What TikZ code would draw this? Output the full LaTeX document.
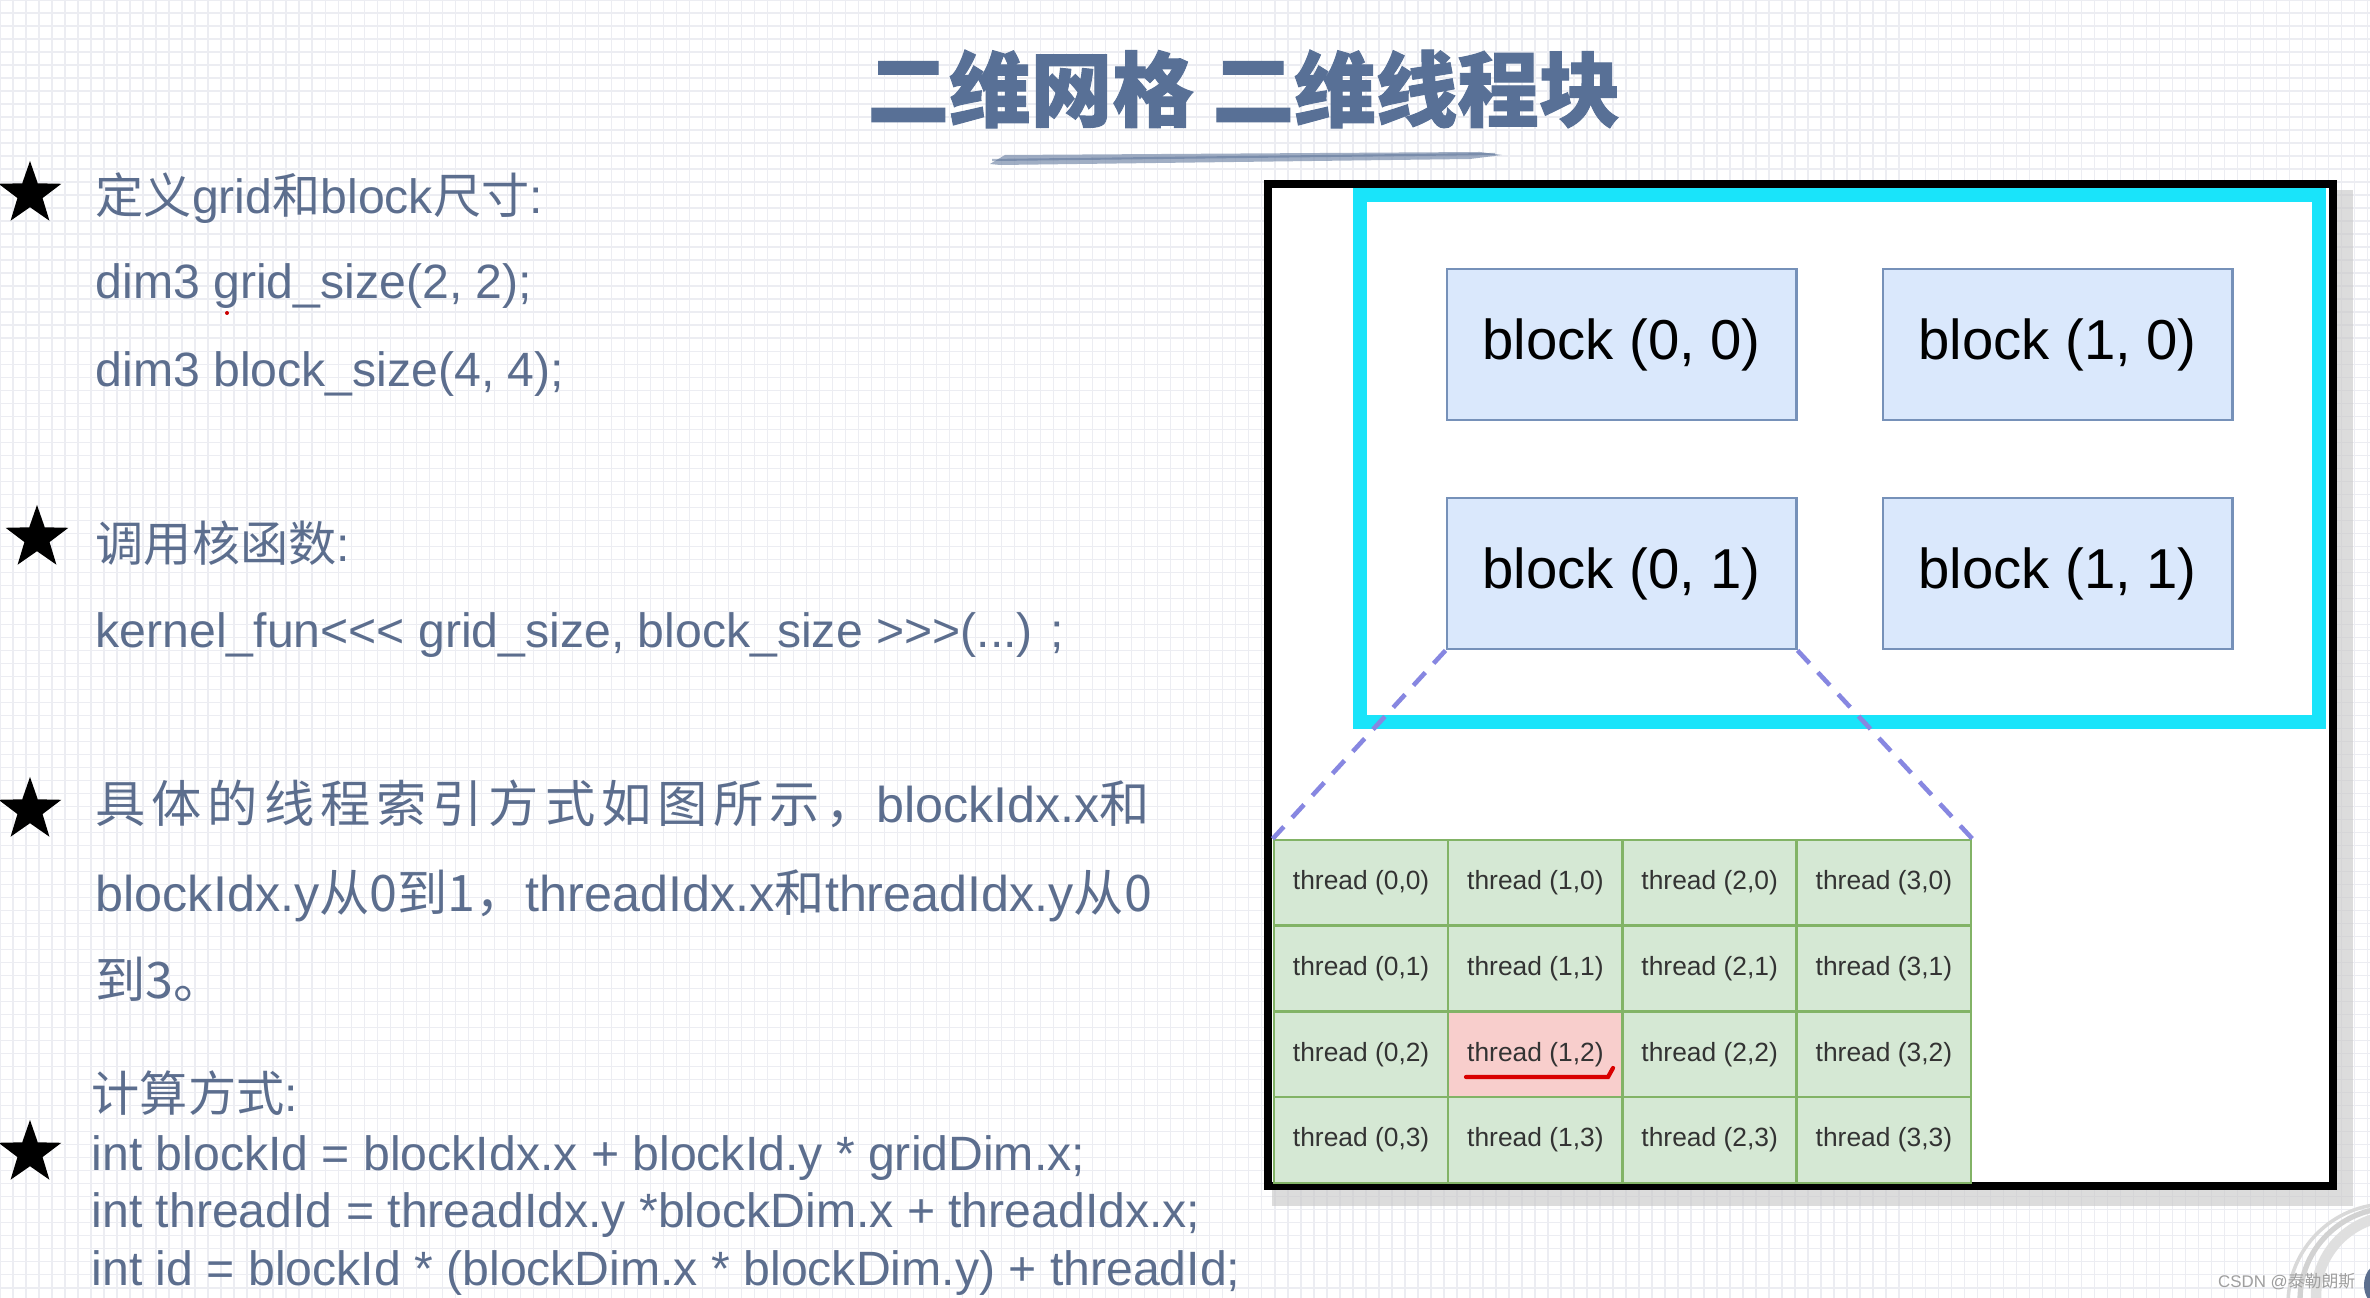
\documentclass[tikz,border=0pt]{standalone}
\usepackage{fontspec}
\setmainfont{Liberation Sans}
\newfontfamily\zhfont{Noto Sans CJK SC}
\newcommand{\zh}[1]{{\zhfont #1}}
\usetikzlibrary{shapes.geometric}
\definecolor{slate}{RGB}{92,110,142}
\definecolor{titleblue}{RGB}{88,112,150}
\definecolor{gridcyan}{RGB}{25,228,250}
\definecolor{blockfill}{RGB}{218,232,252}
\definecolor{blockline}{RGB}{118,145,185}
\definecolor{threadfill}{RGB}{213,232,212}
\definecolor{threadline}{RGB}{130,179,102}
\definecolor{hotfill}{RGB}{248,206,204}
\definecolor{zoomline}{RGB}{135,135,225}
\definecolor{paperline}{RGB}{236,237,242}

\begin{document}
\begin{tikzpicture}[x=0.01cm,y=-0.01cm,
	txt/.style={anchor=base west,inner sep=0,text=slate,font=\fontsize{13.7}{16}\selectfont},
	bigtxt/.style={txt,font=\fontsize{14.3}{17}\selectfont},
	starmark/.style={star,star points=5,star point ratio=2.5,fill=black,minimum size=0.66cm,inner sep=0},
	blk/.style={draw=blockline,fill=blockfill,line width=0.8pt,minimum width=3.49cm,minimum height=1.51cm,font=\fontsize{16}{19}\selectfont},
	thr/.style={draw=threadline,line width=0.7pt,minimum width=1.7425cm,minimum height=0.8575cm,inner sep=0,text=black!80,font=\fontsize{7.5}{9}\selectfont},
	zoomdash/.style={draw=zoomline,line width=1.3pt,dash pattern=on 5pt off 3.5pt}]
	\useasboundingbox (0,0) rectangle (2370,1298);
	\clip (0,0) rectangle (2370,1298);
	\fill[white] (0,0) rectangle (2370,1298);
	\draw[paperline,line width=0.4pt,step=0.13cm] (0,0) grid (2370,1298);

	% title
	\node (title) at (1244,89) {\zhfont\bfseries\addfontfeature{FakeBold=1.2}\color{titleblue}\fontsize{23.2}{28}\selectfont 二维网格 二维线程块};
	\fill[titleblue!80,opacity=0.7] (990,164) -- (1005,155) -- (1480,152) -- (1502,155) -- (1470,159) -- (1000,165) -- cycle;
	\draw[titleblue,opacity=0.5,line width=0.6pt] (992,160) -- (1495,154);

	% left text
	\node[starmark] (s1) at (30,194) {};
	\node[txt] (l1) at (95,214) {\zh{定义}grid\zh{和}block\zh{尺寸}:};
	\node[txt] (l2) at (95,299) {dim3 grid\_size(2, 2);};
	\fill[red!80!black] (227,313) circle (2);
	\node[txt] (l3) at (95,387) {dim3 block\_size(4, 4);};
	\node[starmark] (s2) at (37,538) {};
	\node[txt] (l4) at (95,562) {\zh{调用核函数}:};
	\node[txt] (l5) at (95,648) {kernel\_fun<{}<{}< grid\_size, block\_size >{}>{}>(...) ;};
	\node[starmark] (s3) at (30,810) {};
	\node[bigtxt] (l6) at (95,823) {\zh{\addfontfeature{LetterSpace=11.7}具体的线程索引方式如图所示，}blockIdx.x\zh{和}};
	\node[bigtxt] (l7) at (95,911) {blockIdx.y\zh{从0到1，}threadIdx.x\zh{和}threadIdx.y\zh{从0}};
	\node[bigtxt] (l8) at (95,998) {\zh{到3。}};
	\node[txt] (l9) at (91,1111) {\zh{计算方式}:};
	\node[starmark] (s4) at (30,1153) {};
	\node[txt] (l10) at (91,1170) {int blockId = blockIdx.x + blockId.y * gridDim.x;};
	\node[txt] (l11) at (91,1227) {int threadId = threadIdx.y *blockDim.x + threadIdx.x;};
	\node[txt] (l12) at (91,1285) {int id = blockId * (blockDim.x * blockDim.y) + threadId;};

	% grid of blocks
	\draw[gray!45,line width=5pt,opacity=0.6] (1272,1197) -- (2344,1197) -- (2344,190);
	\draw[black,line width=2.3pt,fill=white] (1268,184) rectangle (2333,1186);
	\draw[gridcyan,line width=0.14cm] (1360,195) rectangle (2319,722);
	\node[blk] (b00) at (1621.5,344.5) {block (0, 0)};
	\node[blk] (b10) at (2057.5,344.5) {block (1, 0)};
	\node[blk] (b01) at (1621.5,573.5) {block (0, 1)};
	\node[blk] (b11) at (2057.5,573.5) {block (1, 1)};

	% threads of block (0,1)
	\foreach \i in {0,...,3}
		\foreach \j in {0,...,3}{
			\ifnum\i\j=12 \def\cellfill{hotfill}\else\def\cellfill{threadfill}\fi
			\node[thr,fill=\cellfill] (t\i\j) at ({1274+174.25*(\i+0.5)},{840+85.75*(\j+0.5)}) {thread (\i,\j)};
		}
	\draw[zoomdash] (b01.south west) -- (t00.north west);
	\draw[zoomdash] (b01.south east) -- (t30.north east);
	\draw[red!85!black,line width=1.2pt,line cap=round] (1466,1077) -- (1608,1077) -- (1613,1068);

	% corner
	\draw[gray!35,line width=1.5pt] (2392,1300) circle (92);
	\draw[gray!25,line width=3pt] (2396,1296) circle (80);
	\draw[gray!30,line width=1pt] (2388,1304) circle (100);
	\fill[slate] (2378,1285) ellipse (14 and 20);
	\node[anchor=east,inner sep=0,text=gray!75,font=\fontsize{4.8}{6}\selectfont] (wm) at (2356,1282) {CSDN @\zh{泰勒朗斯}};
\end{tikzpicture}
\end{document}
